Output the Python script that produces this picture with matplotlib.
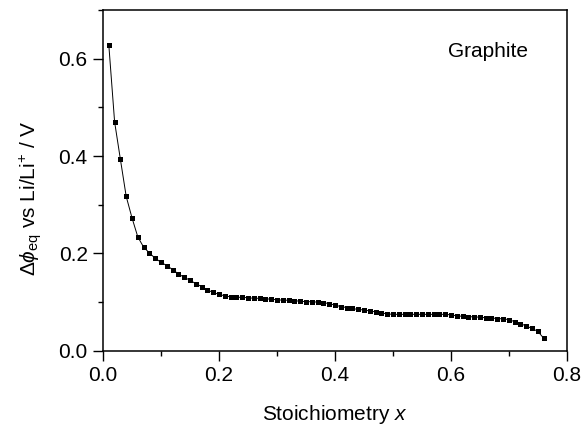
import matplotlib
matplotlib.use("Agg")
import matplotlib.pyplot as plt
from matplotlib.ticker import MultipleLocator

plt.rcParams['font.family'] = ['Liberation Sans', 'DejaVu Sans']
plt.rcParams['mathtext.fontset'] = 'custom'
plt.rcParams['mathtext.rm'] = 'Liberation Sans'
plt.rcParams['mathtext.it'] = 'Liberation Sans:italic'

# stoichiometry x
stoich = [0.01, 0.02, 0.03, 0.04, 0.05, 0.06, 0.07, 0.08, 0.09, 0.10,
          0.11, 0.12, 0.13, 0.14, 0.15, 0.16, 0.17, 0.18, 0.19, 0.20,
          0.21, 0.22, 0.23, 0.24, 0.25, 0.26, 0.27, 0.28, 0.29, 0.30,
          0.31, 0.32, 0.33, 0.34, 0.35, 0.36, 0.37, 0.38, 0.39, 0.40,
          0.41, 0.42, 0.43, 0.44, 0.45, 0.46, 0.47, 0.48, 0.49, 0.50,
          0.51, 0.52, 0.53, 0.54, 0.55, 0.56, 0.57, 0.58, 0.59, 0.60,
          0.61, 0.62, 0.63, 0.64, 0.65, 0.66, 0.67, 0.68, 0.69, 0.70,
          0.71, 0.72, 0.73, 0.74, 0.75, 0.76]

# equilibrium potential vs Li/Li+ (V)
potential = [0.628, 0.470, 0.393, 0.317, 0.273, 0.234, 0.213, 0.201, 0.190, 0.182,
             0.175, 0.167, 0.158, 0.151, 0.145, 0.138, 0.132, 0.125, 0.120, 0.116,
             0.113, 0.111, 0.110, 0.110, 0.109, 0.108, 0.108, 0.107, 0.106, 0.105,
             0.104, 0.104, 0.103, 0.102, 0.101, 0.101, 0.100, 0.099, 0.097, 0.094,
             0.091, 0.089, 0.087, 0.085, 0.084, 0.082, 0.080, 0.078, 0.076, 0.075,
             0.075, 0.075, 0.075, 0.075, 0.075, 0.075, 0.075, 0.075, 0.075, 0.074,
             0.072, 0.071, 0.070, 0.070, 0.069, 0.068, 0.068, 0.066, 0.066, 0.064,
             0.060, 0.056, 0.051, 0.046, 0.040, 0.026]

fig = plt.figure(figsize=(5.82, 4.30), dpi=100)
ax = fig.add_axes([0.177, 0.184, 0.797, 0.793])

ax.plot(stoich, potential, color='black', linewidth=0.7,
        marker='s', markersize=3.6, markerfacecolor='black', markeredgewidth=0)

ax.set_xlim(0, 0.8)
ax.set_ylim(0, 0.7)
ax.xaxis.set_major_locator(MultipleLocator(0.2))
ax.xaxis.set_minor_locator(MultipleLocator(0.1))
ax.yaxis.set_major_locator(MultipleLocator(0.2))
ax.yaxis.set_minor_locator(MultipleLocator(0.1))
ax.tick_params(which='major', direction='out', length=7, width=1.0, labelsize=15, pad=4)
ax.tick_params(which='minor', direction='out', length=3.5, width=1.0)
ax.xaxis.set_major_formatter(plt.FormatStrFormatter('%.1f'))
ax.yaxis.set_major_formatter(plt.FormatStrFormatter('%.1f'))
for s in ax.spines.values():
    s.set_linewidth(1.1)

ax.set_xlabel('Stoichiometry $\\mathit{x}$', fontsize=15, labelpad=13)
ax.set_ylabel('$\\Delta\\mathit{\\phi}_{\\mathrm{eq}}$ vs Li/Li$^{+}$ / V', fontsize=15)
ax.yaxis.set_label_coords(-0.127, 0.449)
ax.text(0.916, 0.862, 'Graphite', transform=ax.transAxes, fontsize=15,
        ha='right', va='baseline')

fig.savefig('out.png', dpi=100)
